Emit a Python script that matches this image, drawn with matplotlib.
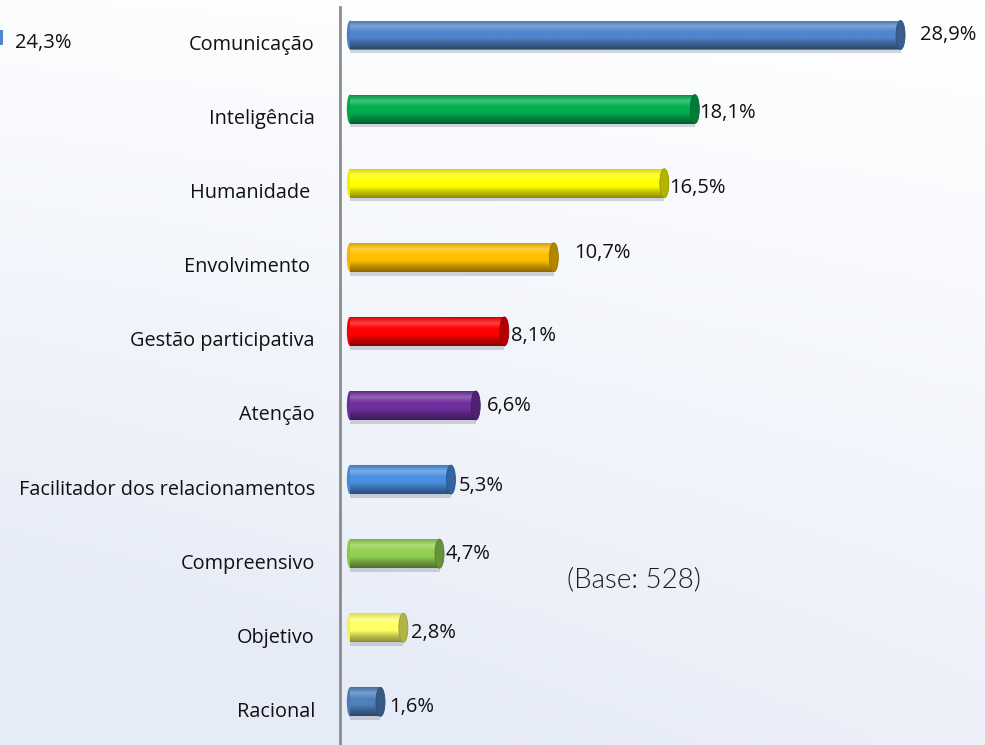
import numpy as np
import matplotlib
matplotlib.use("Agg")
import matplotlib.pyplot as plt
from matplotlib.colors import LinearSegmentedColormap, to_rgb
from matplotlib.patches import Ellipse, Rectangle

# Daten
categorias = ["Comunicação", "Inteligência", "Humanidade ", "Envolvimento ",
              "Gestão participativa", "Atenção", "Facilitador dos relacionamentos",
              "Compreensivo", "Objetivo", "Racional"]
valores = [28.9, 18.1, 16.5, 10.7, 8.1, 6.6, 5.3, 4.7, 2.8, 1.6]
rotulos = ["28,9%", "18,1%", "16,5%", "10,7%", "8,1%", "6,6%", "5,3%", "4,7%", "2,8%", "1,6%"]
cores = ["#4F86CC", "#00B050", "#FFFF00", "#FFC000", "#FF0000",
         "#7030A0", "#4A90E2", "#92D050", "#FFFF66", "#4F81BD"]
base_txt = "(Base: 528)"
fragmento_txt = "24,3%"

# Abstand der Wertelabels (px): dx nach rechts, dy nach unten
label_off = [(15, 0), (0, 4), (0, 5), (16, -4), (2, 5), (7, 1), (3, 6), (2, 0), (3, 5), (4, 5)]

plt.rcParams["font.family"] = ["Open Sans", "DejaVu Sans"]

W, H = 985, 745
fig = plt.figure(figsize=(W / 100, H / 100), dpi=100)

# Hintergrund mit Verlauf
bg = fig.add_axes([0, 0, 1, 1], zorder=0)
yy, xx = np.mgrid[0:1:200j, 0:1:200j]
t = np.clip(0.75 * yy + 0.35 * (1 - xx) * yy + 0.1 * (1 - xx), 0, 1)
oben = np.array(to_rgb("#FFFFFF"))
unten = np.array(to_rgb("#E5EBF7"))
img = oben[None, None, :] * (1 - t[..., None]) + unten[None, None, :] * t[..., None]
bg.imshow(img, extent=(0, 1, 0, 1), aspect="auto", origin="upper")
bg.axis("off")

# Achse: Null etwas rechts der Linie
px_pro_pct = 19.05
x0_px = 340
null_px = 350
ax = fig.add_axes([x0_px / W, 0, (W - x0_px) / W, 1], zorder=1)
ax.patch.set_alpha(0)
xmin = -(null_px - x0_px) / px_pro_pct
xmax = xmin + (W - x0_px) / px_pro_pct
y_step = 74.1
y_first = 35
ymin = -y_first / y_step
ymax = (H - y_first) / y_step

h = 29 / y_step
cap_w = 9 / px_pro_pct


def mix(c, other, f):
    c = np.array(to_rgb(c))
    o = np.array(to_rgb(other))
    return tuple(c * (1 - f) + o * f)


for i, (v, c) in enumerate(zip(valores, cores)):
    # Schatten
    ax.add_patch(Rectangle((0, i - h / 2 + 0.05), v, h, facecolor="#9098A8",
                           alpha=0.4, edgecolor="none", zorder=2))
    bar = ax.barh(i, v, height=h, color=c, edgecolor="none", zorder=3)[0]
    cmap = LinearSegmentedColormap.from_list(
        "cyl", [mix(c, "black", 0.15), mix(c, "white", 0.25), c, c,
                mix(c, "black", 0.25), mix(c, "black", 0.45)])
    grad = np.linspace(0, 1, 64).reshape(-1, 1)
    im = ax.imshow(grad, extent=(0, v, i + h / 2, i - h / 2), cmap=cmap,
                   aspect="auto", origin="upper", zorder=4)
    im.set_clip_path(bar)
    # Deckel rechts
    ax.add_patch(Ellipse((v, i), cap_w, h, facecolor=mix(c, "black", 0.3),
                         edgecolor=mix(c, "black", 0.4), lw=0.6, zorder=5))
    ax.add_patch(Ellipse((0, i), cap_w * 0.7, h, facecolor=mix(c, "black", 0.05),
                         edgecolor="none", zorder=3))
    dx, dy = label_off[i]
    ax.annotate(rotulos[i], (v + cap_w / 2, i), xytext=(dx, -dy),
                textcoords="offset pixels", ha="left", va="center",
                fontsize=14.5, color="#111111", zorder=6)
    ax.text(-25 / (W - x0_px), i + 10 / y_step, categorias[i],
            transform=ax.get_yaxis_transform(), ha="right", va="center",
            fontsize=14.3, color="#111111")

ax.set_xlim(xmin, xmax)
ax.set_ylim(ymax, ymin)
for s in ["top", "right", "bottom"]:
    ax.spines[s].set_visible(False)
ax.spines["left"].set_color("#8C8C8C")
ax.spines["left"].set_linewidth(2)
ax.spines["left"].set_bounds(ymax, -28 / y_step)
ax.set_xticks([])
ax.set_yticks([])

ax.text(567 / W, 1 - 580 / H, base_txt, transform=fig.transFigure, ha="left",
        va="center", fontsize=20, family="Lato", fontweight=300, color="#1A1A1A")

# abgeschnittener Balken links oben
fig.patches.append(Rectangle((0, 1 - 45 / H), 3 / W, 15 / H, transform=fig.transFigure,
                             facecolor="#4F86CC", edgecolor="none", zorder=2))
fig.text(15 / W, 1 - 43 / H, fragmento_txt, ha="left", va="center",
         fontsize=14.5, color="#111111")

fig.savefig("out.png", dpi=100)
